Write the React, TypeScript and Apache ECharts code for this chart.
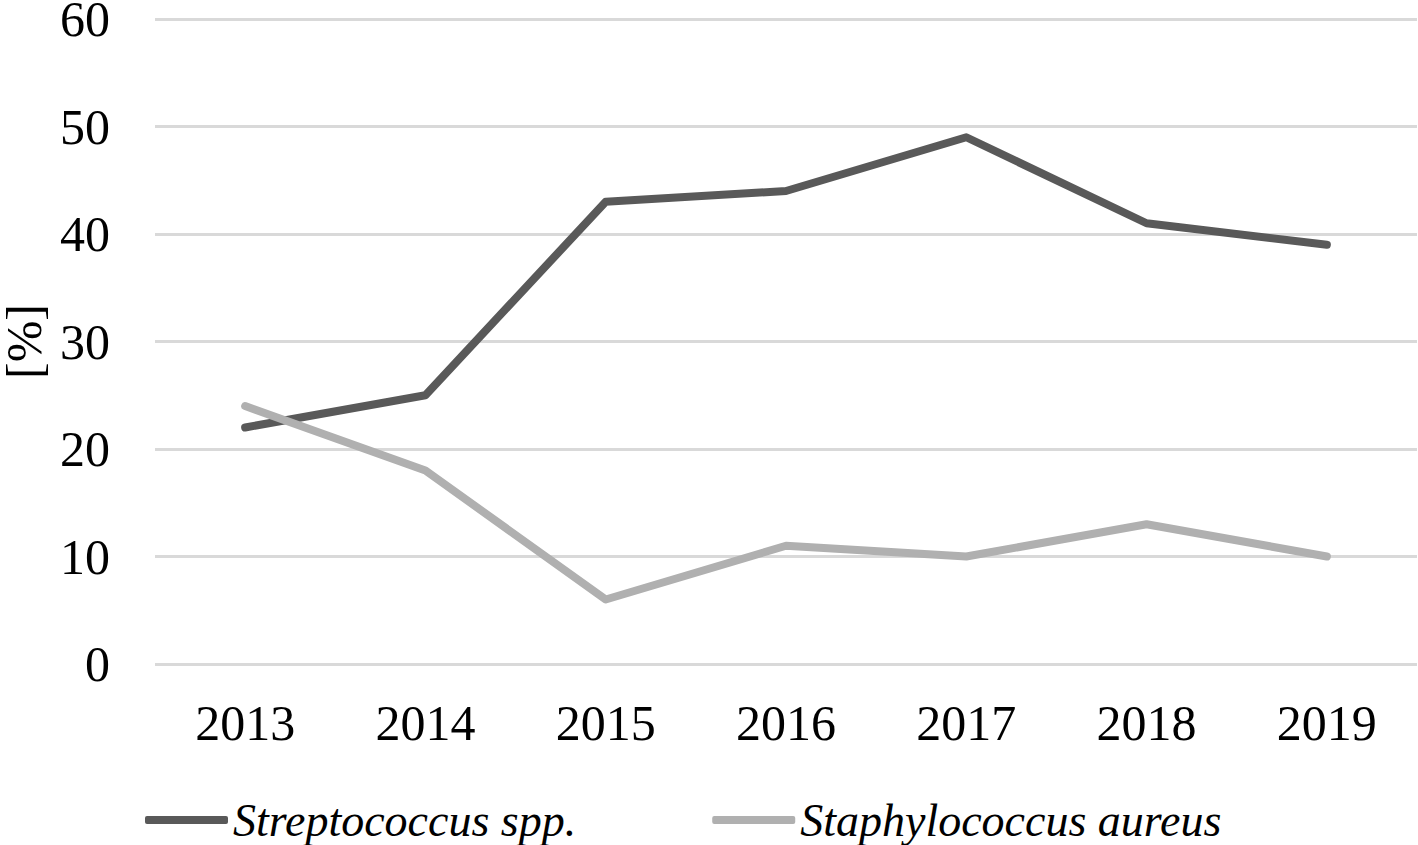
import React, { useEffect, useRef } from "react";
import * as echarts from "echarts";

const years = ["2013", "2014", "2015", "2016", "2017", "2018", "2019"];
const streptococcus = [22, 25, 43, 44, 49, 41, 39];
const staphylococcus = [24, 18, 6, 11, 10, 13, 10];
const seriesNames = ["Streptococcus spp.", "Staphylococcus aureus"];

export default function App() {
  const ref = useRef<HTMLDivElement>(null);
  useEffect(() => {
    document.body.style.margin = "0";
    const chart = echarts.init(ref.current!, null, { renderer: "svg" });
    const font = "'Liberation Serif', 'Times New Roman', serif";
    chart.setOption({
      animation: false,
      backgroundColor: "#ffffff",
      grid: {
        left: 155,
        right: 1,
        top: 19,
        bottom: 181,
        containLabel: false,
        outerBoundsMode: "none",
      },
      legend: {
        left: 140,
        top: 792,
        icon: "roundRect",
        itemWidth: 83,
        itemHeight: 8,
        itemGap: 136,
        textStyle: { fontFamily: font, fontSize: 46, fontStyle: "italic", color: "#000" },
        data: seriesNames,
      },
      xAxis: {
        type: "category",
        data: years,
        boundaryGap: true,
        axisLine: { show: false },
        axisTick: { show: false },
        axisLabel: { fontFamily: font, fontSize: 50, color: "#000", margin: 34 },
      },
      yAxis: {
        type: "value",
        min: 0,
        max: 60,
        interval: 10,
        name: "[%]",
        nameLocation: "middle",
        nameGap: 104,
        nameRotate: 90,
        nameTextStyle: { fontFamily: font, fontSize: 50, lineHeight: 42, color: "#000" },
        axisLine: { show: false },
        axisTick: { show: false },
        axisLabel: { fontFamily: font, fontSize: 50, lineHeight: 36, color: "#000", margin: 45 },
        splitLine: { lineStyle: { color: "#d9d9d9", width: 3 } },
      },
      series: [
        {
          name: seriesNames[0],
          type: "line",
          data: streptococcus,
          symbol: "none",
          lineStyle: { color: "#595959", width: 8, cap: "round", join: "round" },
          itemStyle: { color: "#595959" },
        },
        {
          name: seriesNames[1],
          type: "line",
          data: staphylococcus,
          symbol: "none",
          lineStyle: { color: "#b0b0b0", width: 8, cap: "round", join: "round" },
          itemStyle: { color: "#b0b0b0" },
        },
      ],
    });
    return () => chart.dispose();
  }, []);
  return <div ref={ref} style={{ width: 1418, height: 845 }} />;
}
